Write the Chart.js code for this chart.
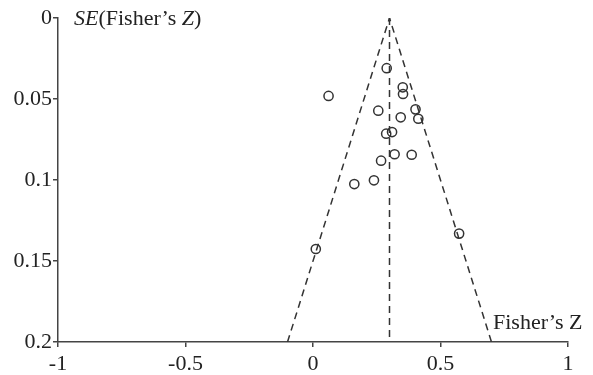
<!DOCTYPE html>
<html>
<head>
<meta charset="utf-8">
<script src="https://cdn.jsdelivr.net/npm/chart.js@4/dist/chart.umd.min.js"></script>
<style>
  html, body { margin: 0; padding: 0; background: #fff; }
  #wrap { width: 593px; height: 375px; }
</style>
</head>
<body>
<div id="wrap"><canvas id="myChart" width="593" height="375"></canvas></div>
<script>
// study effect sizes (Fisher's Z) and their standard errors
const studyZ = [0.289, 0.352, 0.353, 0.061, 0.256, 0.402, 0.344, 0.413, 0.287,
  0.310, 0.320, 0.387, 0.267, 0.239, 0.162, 0.573, 0.011];
const studySE = [0.031, 0.0428, 0.0469, 0.0481, 0.0572, 0.0564, 0.0613, 0.0622, 0.0714,
  0.0704, 0.0841, 0.0844, 0.0881, 0.1002, 0.1025, 0.1331, 0.1426];

// funnel edges and pooled estimate line
const funnelZ = [-0.1, 0.3, 0.7];
const funnelSE = [0.2, 0, 0.2];
const centerZ = [0.3, 0.3];
const centerSE = [0, 0.2];

// tick labels
const xTicks = [-1, -0.5, 0, 0.5, 1];
const yTicks = [0, 0.05, 0.1, 0.15, 0.2];

const serif = "'Liberation Serif', 'Times New Roman', serif";
const ink = "#333";

const toPoints = (xs, ys) => xs.map((x, i) => ({ x: x, y: ys[i] }));

const axisLabels = {
  id: "axisLabels",
  afterDraw(chart) {
    const ctx = chart.ctx;
    ctx.save();
    ctx.fillStyle = "#222";
    ctx.textBaseline = "alphabetic";
    // y axis title: SE(Fisher's Z) with italic SE and Z
    const parts = [
      ["SE", "italic"],
      ["(Fisher\u2019s ", "normal"],
      ["Z", "italic"],
      [")", "normal"],
    ];
    let x = 74;
    parts.forEach(([t, style]) => {
      ctx.font = style + " 22px " + serif;
      ctx.fillText(t, x, 25);
      x += ctx.measureText(t).width;
    });
    // x axis title
    ctx.font = "22px " + serif;
    ctx.fillText("Fisher\u2019s Z", 493, 329);
    ctx.restore();
  },
};

const dashed = {
  showLine: true,
  borderColor: ink,
  borderWidth: 1.5,
  borderDash: [7, 5],
  pointRadius: 0,
  fill: false,
};

const config = {
  type: "scatter",
  data: {
    datasets: [
      Object.assign({ data: toPoints(funnelZ, funnelSE) }, dashed),
      Object.assign({ data: toPoints(centerZ, centerSE) }, dashed),
      {
        data: toPoints(studyZ, studySE),
        pointStyle: "circle",
        pointRadius: 4.6,
        pointBorderWidth: 1.5,
        borderColor: ink,
        backgroundColor: "rgba(0,0,0,0)",
        showLine: false,
      },
    ],
  },
  options: {
    responsive: false,
    animation: false,
    layout: { padding: { top: 18, right: 25, left: 0, bottom: 0 } },
    plugins: { legend: { display: false }, tooltip: { enabled: false } },
    scales: {
      x: {
        type: "linear",
        min: -1,
        max: 1,
        afterBuildTicks: (s) => { s.ticks = xTicks.map((v) => ({ value: v })); },
        afterFit: (s) => { s.height = 33; },
        ticks: {
          color: "#222",
          font: { family: serif, size: 22 },
          padding: 4,
          maxRotation: 0,
          callback: (v) => String(v),
        },
        grid: { display: true, drawOnChartArea: false, drawTicks: true, tickLength: 5, color: "#444", lineWidth: 1.5 },
        border: { display: true, color: "#444", width: 1.5 },
      },
      y: {
        type: "linear",
        reverse: true,
        min: 0,
        max: 0.2,
        afterBuildTicks: (s) => { s.ticks = yTicks.map((v) => ({ value: v })); },
        afterFit: (s) => { s.width = 58; },
        ticks: {
          color: "#222",
          font: { family: serif, size: 22 },
          padding: 1,
          callback: (v) => String(v),
        },
        grid: { display: true, drawOnChartArea: false, drawTicks: true, tickLength: 5, color: "#444", lineWidth: 1.5 },
        border: { display: true, color: "#444", width: 1.5 },
      },
    },
  },
  plugins: [axisLabels],
};

const myChart = new Chart(document.getElementById("myChart"), config);
</script>
</body>
</html>
